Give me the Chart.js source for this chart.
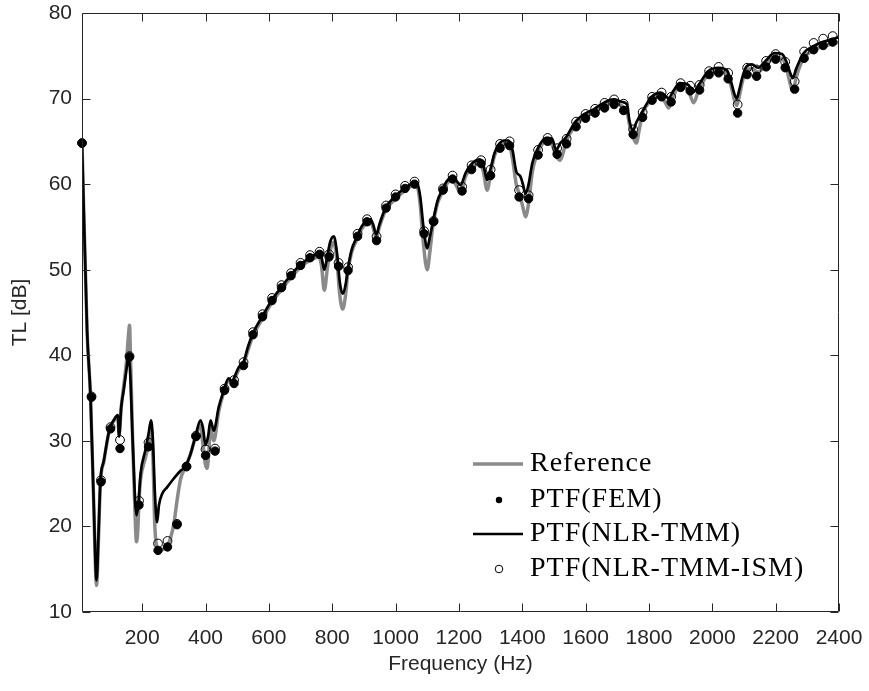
<!DOCTYPE html>
<html><head><meta charset="utf-8">
<script src="https://cdn.jsdelivr.net/npm/chart.js@4.4.1/dist/chart.umd.min.js"></script>
<style>html,body{margin:0;padding:0;background:#fff;}#wrap{width:869px;height:691px;}</style>
</head><body><div id="wrap"><canvas id="c" width="869" height="691"></canvas></div>
<script>
// ---- tick labels ----
const xTickValues = [200,400,600,800,1000,1200,1400,1600,1800,2000,2200,2400];
const yTickValues = [10,20,30,40,50,60,70,80];

// ---- sampled frequencies for point series (Hz) ----
const sampleFreq = [10,40,70,100,130,160,190,220,250,280,310,340,370,400,430,460,490,520,550,580,
  610,640,670,700,730,760,790,820,850,880,910,940,970,1000,1030,1060,1090,1120,1150,1180,
  1210,1240,1270,1300,1330,1360,1390,1420,1450,1480,1510,1540,1570,1600,1630,1660,1690,1720,1750,1780,
  1810,1840,1870,1900,1930,1960,1990,2020,2050,2080,2110,2140,2170,2200,2230,2260,2290,2320,2350,2380];

// PTF(FEM) TL [dB]
const femTL = [64.8,35.1,25.2,31.4,29.1,39.8,22.5,29.3,17.2,17.6,20.2,27.0,30.5,28.3,28.8,35.9,36.7,38.8,42.4,44.5,
  46.4,47.9,49.3,50.5,51.4,51.8,51.5,50.4,49.9,53.9,55.6,53.4,57.2,58.5,59.5,60.0,54.2,55.6,59.3,60.6,
  59.2,61.7,62.4,61.0,64.2,64.5,58.5,58.3,63.4,65.0,63.5,64.7,66.7,67.7,68.3,68.9,69.3,68.6,65.8,67.8,
  69.8,70.2,69.6,71.3,70.9,71.0,72.8,73.0,72.3,68.3,72.8,72.6,73.7,74.6,73.6,71.1,74.7,75.7,76.2,76.6];

// PTF(NLR-TMM-ISM) TL [dB]
const ismTL = [64.8,35.2,25.4,31.6,30.1,39.9,23.0,29.8,18.0,18.3,20.3,27.0,30.6,29.0,29.1,36.1,37.1,39.2,42.7,44.8,
  46.7,48.2,49.6,50.8,51.7,52.1,51.8,50.8,50.3,54.2,55.9,53.9,57.5,58.8,59.8,60.3,54.5,55.7,59.5,61.0,
  59.7,62.2,62.8,61.7,64.7,65.0,59.3,58.7,64.0,65.4,64.2,65.3,67.3,68.2,68.8,69.5,69.9,69.4,66.4,68.4,
  70.2,70.7,70.2,71.8,71.5,71.6,73.2,73.7,73.0,69.3,73.6,73.4,74.4,75.2,74.3,72.0,75.5,76.5,77.0,77.3];

// Reference curve
const refFreq = [10,26,37,46,56,62,68,79,97,110,123,127,134,142,151,157,160,163,170,177,182,186,190,195,210,220,228,234,240,247,
  255,265,279,290,300,310,321,337,353,368,384,392,400,405,410,416,426,442,457,473,482,505,520,534,550,580,610,640,670,700,
  730,758,766,775,785,794,805,815,824,833,842,849,861,879,892,908,921,930,939,949,968,997,1028,1057,1069,1078,1088,1100,1108,1118,
  1132,1147,1161,1179,1192,1205,1221,1236,1266,1277,1289,1300,1312,1327,1344,1357,1369,1381,1394,1402,1410,1419,1432,1447,1460,1476,1494,1507,1520,1530,
  1537,1568,1597,1628,1657,1688,1716,1731,1738,1750,1760,1770,1778,1808,1837,1852,1862,1877,1897,1924,1941,1957,1987,2020,2046,2059,2070,2077,2085,2095,
  2107,2125,2144,2168,2197,2220,2234,2244,2254,2265,2288,2318,2348,2378,2400];
const refTL = [64.8,42.9,35.1,24,13.1,18.5,25.0,27.6,31.3,32.3,32.8,30.8,34,36.5,39.5,42.5,43.5,40,30,22,18.2,19.5,23,25.5,28,29.6,31.5,28,20,17.5,
  17.2,17.3,17.7,18.7,20.3,23,25.5,27,28.5,30.4,31.8,29.5,27.2,26.8,28.5,31.5,30,33.5,35.6,37,36.8,38.3,39,40.6,42.3,44.3,46.2,47.7,49.1,50.3,
  51.1,51.5,50.5,47.6,50.3,52.3,53.2,51,47,45.4,47,49.6,52,53.6,54.7,55.4,55.5,54.8,53.7,55,56.9,58.2,59.2,59.8,59.6,57.5,53,50.0,52,55.2,
  57.7,59.0,60.0,60.5,59.8,59.0,60.9,61.8,62.5,61.5,59.3,61.2,63.3,64.3,64.7,64.7,63,60,58.5,57.3,56.2,57.5,61.5,63.5,64.5,65,64.6,63.3,62.8,63.8,
  64.8,66.9,67.8,68.4,69.1,69.5,69.1,68.5,67,65.5,64.8,66.5,68,69.8,70.2,69.5,68.9,70.3,71.4,71.0,69.5,71.0,72.8,73.2,72.9,71.5,69.8,69.2,70.2,72,
  73.2,73.5,73.1,73.9,74.8,74.7,73.6,72,70.8,72.5,74.7,75.6,76.1,76.4,76.6];

// PTF(NLR-TMM) curve
const tmmFreq = [10,26,37,46,56,62,68,79,97,110,123,127,134,142,151,157,162,170,182,188,195,210,220,228,234,240,247,253,263,279,
  300,321,337,353,368,384,392,400,408,416,426,442,457,473,482,505,520,534,550,580,610,640,670,700,730,758,766,775,785,794,
  805,815,824,833,842,849,861,879,892,908,921,930,939,949,968,997,1028,1057,1069,1078,1088,1100,1108,1118,1132,1147,1161,1179,1192,1205,
  1221,1236,1266,1277,1289,1300,1312,1327,1344,1357,1369,1381,1394,1402,1410,1419,1432,1447,1460,1476,1494,1507,1520,1537,1568,1597,1628,1657,1688,1716,
  1731,1738,1750,1760,1778,1808,1837,1852,1862,1877,1897,1924,1941,1957,1987,2020,2046,2059,2070,2077,2085,2095,2107,2125,2144,2168,2197,2220,2234,2244,
  2254,2265,2288,2318,2348,2378,2400];
const tmmTL = [64.8,42.9,35.1,24,13.7,19,25.2,27.7,31.4,32.4,33.0,30.5,34.0,36,38.5,40.0,38,30,21.3,22.6,26.2,28.9,30.8,32.4,30,24,20.5,22.5,23.8,24.6,
  25.6,26.5,27,28.5,30.5,32.4,31.5,29.5,30.5,32.4,31.2,34,35.8,37.3,37.0,38.6,39.2,41,42.6,44.6,46.5,48,49.4,50.6,51.4,51.9,51.5,50.0,51.7,53.3,
  53.9,52,48.5,47.2,48.2,50,52.3,53.9,55,55.7,55.9,55.2,54.1,55.3,57.2,58.5,59.5,60.1,60.0,58.5,55,52.5,53.8,55.6,58,59.3,60.3,60.9,60.4,59.9,
  61.3,62.2,62.9,62.3,60.5,61.8,63.6,64.7,65.1,65.1,64,61.5,60.9,60,58.9,59.8,62.5,64,64.9,65.4,65.3,64.0,64.8,65.4,67.3,68.2,68.8,69.5,69.9,69.6,
  69.3,67.5,66.3,67.2,68.4,70.2,70.7,70.3,70.05,70.9,71.8,71.6,70.8,71.6,73.2,73.6,73.3,72,70.5,70.0,71,72.5,73.7,74.0,73.6,74.4,75.3,75.2,74.3,73.2,
  72.4,73.5,75.3,76.1,76.6,76.9,77.2];

const seriesNames = ['Reference','PTF(FEM)','PTF(NLR-TMM)','PTF(NLR-TMM-ISM)'];

const pairs = (xs, ys) => xs.map((v, i) => ({x: v, y: ys[i]}));
const AX = '#262626';

const framePlugin = {
  id: 'frame',
  afterDraw(chart) {
    const {ctx, chartArea: a, scales: {x, y}} = chart;
    ctx.save();
    ctx.strokeStyle = AX; ctx.lineWidth = 1;
    const L = Math.round(a.left) + 0.5, R = Math.round(a.right) - 0.5;
    const T = Math.round(a.top) + 0.5, B = Math.round(a.bottom) - 0.5;
    ctx.beginPath();
    ctx.rect(L, T, R - L, B - T);
    const tl = 8;
    x.ticks.forEach(t => {
      const p = Math.round(x.getPixelForValue(t.value)) + 0.5;
      ctx.moveTo(p, B); ctx.lineTo(p, B - tl);
      ctx.moveTo(p, T); ctx.lineTo(p, T + tl);
    });
    y.ticks.forEach(t => {
      const p = Math.round(y.getPixelForValue(t.value)) + 0.5;
      ctx.moveTo(L, p); ctx.lineTo(L + tl, p);
      ctx.moveTo(R, p); ctx.lineTo(R - tl, p);
    });
    ctx.stroke();
    ctx.restore();
  }
};

const legendPlugin = {
  id: 'innerLegend',
  afterDraw(chart) {
    const {ctx} = chart;
    const ds = chart.data.datasets;
    const rows = [
      {d: ds[0], y: 464}, {d: ds[1], y: 500}, {d: ds[2], y: 534}, {d: ds[3], y: 569}
    ];
    ctx.save();
    ctx.font = '28px "Liberation Serif"';
    try { ctx.letterSpacing = '1px'; } catch (e) {}
    ctx.fillStyle = '#000';
    ctx.textBaseline = 'middle';
    ctx.textAlign = 'left';
    rows.forEach(r => {
      const d = r.d;
      if (d.showLine) {
        ctx.strokeStyle = d.borderColor; ctx.lineWidth = d.borderWidth;
        ctx.beginPath(); ctx.moveTo(473, r.y); ctx.lineTo(523, r.y); ctx.stroke();
      } else {
        ctx.beginPath(); ctx.arc(499, r.y, d.label === 'PTF(FEM)' ? 3.2 : 3.8, 0, Math.PI * 2);
        if (d.label === 'PTF(FEM)') { ctx.fillStyle = '#000'; ctx.fill(); }
        else { ctx.strokeStyle = '#000'; ctx.lineWidth = 1; ctx.stroke(); }
      }
      ctx.fillStyle = '#000';
      ctx.fillText(d.label, 530, r.y);
    });
    ctx.restore();
  }
};

const noOverhang = s => { s.paddingLeft = 0; s.paddingRight = 0; s.paddingTop = 0; s.paddingBottom = 0; };

new Chart(document.getElementById('c'), {
  type: 'scatter',
  data: {
    datasets: [
      {label: seriesNames[0], data: pairs(refFreq, refTL), showLine: true, borderColor: '#8a8a8a', borderWidth: 3.5,
       pointRadius: 0, cubicInterpolationMode: 'monotone', order: 4},
      {label: seriesNames[1], data: pairs(sampleFreq, femTL), showLine: false, pointStyle: 'circle', pointRadius: 4.2,
       backgroundColor: '#000', borderColor: '#000', pointBorderWidth: 1, order: 3, clip: false},
      {label: seriesNames[2], data: pairs(tmmFreq, tmmTL), showLine: true, borderColor: '#000', borderWidth: 2.7,
       pointRadius: 0, cubicInterpolationMode: 'monotone', order: 2},
      {label: seriesNames[3], data: pairs(sampleFreq, ismTL), showLine: false, pointStyle: 'circle', pointRadius: 4.4,
       backgroundColor: 'rgba(0,0,0,0)', borderColor: '#000', pointBorderWidth: 1, order: 1, clip: false}
    ]
  },
  options: {
    responsive: false, animation: false, devicePixelRatio: 1,
    layout: {padding: {left: 0, right: 30, top: 13, bottom: 0}},
    plugins: {legend: {display: false}, tooltip: {enabled: false}},
    scales: {
      x: {
        type: 'linear', min: 10, max: 2400,
        afterBuildTicks: s => { s.ticks = xTickValues.map(v => ({value: v})); },
        afterFit: s => { s.height = 79; noOverhang(s); },
        grid: {display: false, drawTicks: false}, border: {display: false},
        ticks: {padding: 14, color: AX, font: {family: 'Liberation Sans', size: 21}, maxRotation: 0,
                callback: v => String(v)},
        title: {display: true, text: 'Frequency (Hz)', color: AX, font: {family: 'Liberation Sans', size: 21},
                padding: {top: 4, bottom: 14}}
      },
      y: {
        type: 'linear', min: 10, max: 80,
        afterBuildTicks: s => { s.ticks = yTickValues.map(v => ({value: v})); },
        afterFit: s => { s.width = 82; noOverhang(s); },
        grid: {display: false, drawTicks: false}, border: {display: false},
        ticks: {padding: 10, color: AX, font: {family: 'Liberation Sans', size: 21}, callback: v => String(v)},
        title: {display: true, text: 'TL [dB]', color: AX, font: {family: 'Liberation Sans', size: 21},
                padding: {top: 8, bottom: 0}}
      }
    }
  },
  plugins: [framePlugin, legendPlugin]
});
</script></body></html>
